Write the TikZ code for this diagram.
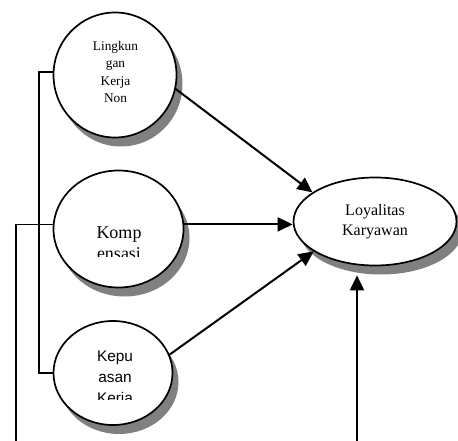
\documentclass[tikz,border=0pt]{standalone}
\usepackage{fontspec}
\setmainfont{Liberation Serif}
\setsansfont{Liberation Sans}
\usetikzlibrary{arrows.meta,positioning,calc,shapes.geometric,shadows}

\begin{document}
\begin{tikzpicture}[x=1pt,y=-1pt,>={Triangle[length=15pt,width=14pt]},
  v/.style={ellipse,draw,line width=1.7pt,fill=white,inner sep=0pt,align=center,
    drop shadow={shadow xshift=6pt,shadow yshift=-9pt,fill=black!50,opacity=1}},
  t/.style={align=center,inner sep=0pt,anchor=north},
  l/.style={line width=1.7pt},a/.style={line width=2pt,->}]
\useasboundingbox (0,0) rectangle (458,441);
\node[v,minimum width=123pt,minimum height=125pt] (ling) at (115,75) {};
\node[v,minimum width=130pt,minimum height=117pt] (komp) at (118.5,229) {};
\node[v,minimum width=119pt,minimum height=104pt] (kep) at (113,373) {};
\node[v,minimum width=163pt,minimum height=88pt,font=\fontsize{16}{20}\selectfont] (loy) at (375,221.5) {Loyalitas\\Karyawan};
\node[t,font=\fontsize{13.3}{17.5}\selectfont] (lingtxt) at (115.5,41) {Lingkun\\gan\\Kerja\\Non};
\begin{scope}\clip (0,0) rectangle (458,256);
\node[t,font=\fontsize{18}{21}\selectfont] (komptxt) at (119,227) {Komp\\ensasi};
\end{scope}
\begin{scope}\clip (0,0) rectangle (458,399.5);
\node[t,font=\sffamily\fontsize{15.4}{21}\selectfont] (keptxt) at (115,351) {Kepu\\asan\\Kerja};
\end{scope}
\coordinate (busA) at (39,0);\coordinate (busB) at (16,441);\coordinate (src) at (357,441);
\draw[l] (ling.177) -- (ling.177 -| busA) |- (kep.west);
\draw[l] (komp.176) -| (busB);
\draw[a] (ling.-13) -- (loy.155);
\draw[a] (komp.4) -- (komp.4 -| loy.west);
\draw[a] (kep.18) -- (loy.206);
\draw[a,shorten >=9pt] (src) -- (src |- loy.south);
\end{tikzpicture}
\end{document}
